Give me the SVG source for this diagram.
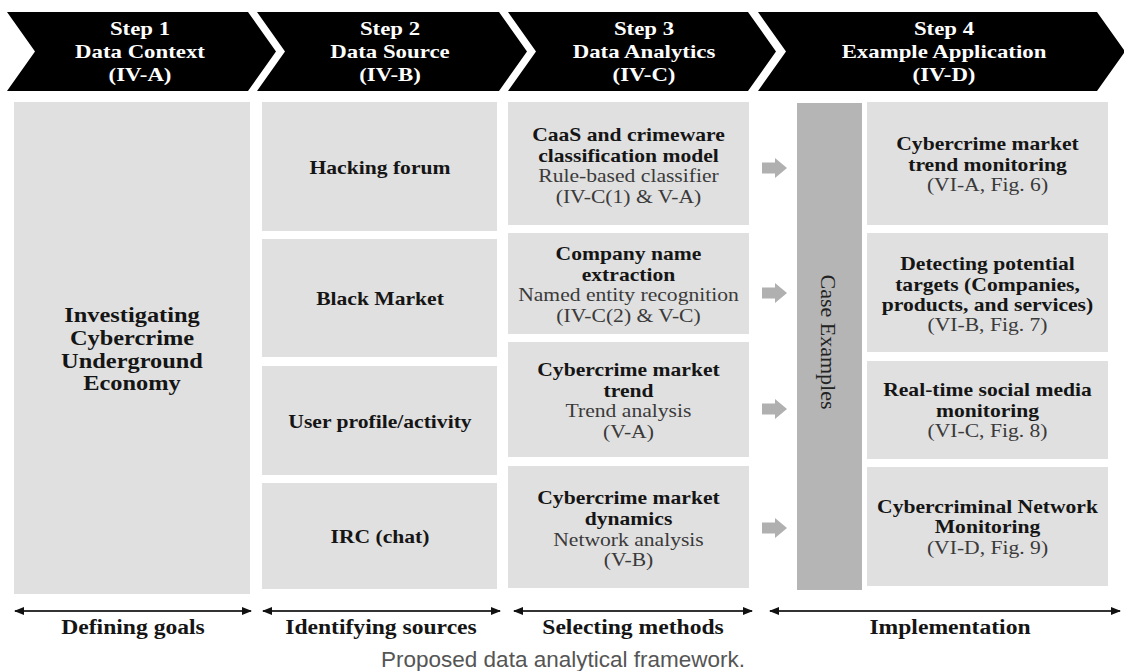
<svg xmlns="http://www.w3.org/2000/svg" xmlns:xlink="http://www.w3.org/1999/xlink" width="1124" height="671" viewBox="0 0 1124 671">
<style>
.chev{fill:#000}
.ct{font-family:"Liberation Serif","Times New Roman",serif;font-weight:bold;font-size:19.5px;fill:#fff;text-anchor:middle}
.box{fill:#e0e0e0}
.bar{fill:#b5b5b5}
.b{font-family:"Liberation Serif","Times New Roman",serif;font-weight:bold;font-size:18px;fill:#151515;text-anchor:middle}
.r{font-family:"Liberation Serif","Times New Roman",serif;font-size:18px;fill:#3a3a3a;text-anchor:middle}
.big{font-family:"Liberation Serif","Times New Roman",serif;font-weight:bold;font-size:20px;fill:#151515;text-anchor:middle}
.lab{font-family:"Liberation Serif","Times New Roman",serif;font-weight:bold;font-size:20px;fill:#151515;text-anchor:middle}
.cap{font-family:"Liberation Sans",Arial,sans-serif;font-size:22.5px;fill:#555;text-anchor:middle}
.ce{font-family:"Liberation Serif","Times New Roman",serif;font-size:22px;fill:#222;text-anchor:middle}
.garrow{fill:#b0b0b0}
.dl{stroke:#333;stroke-width:2;fill:none;marker-start:url(#ah);marker-end:url(#ah)}
</style>
<defs>
<marker id="ah" viewBox="0 0 10 8" refX="9" refY="4" markerWidth="10" markerHeight="8" markerUnits="userSpaceOnUse" orient="auto-start-reverse">
<path d="M0,0 L10,4 L0,8 Z" fill="#111"/>
</marker>
<path id="blk" d="M0,-5.5 H13 V-10 L25,0 L13,10 V5.5 H0 Z"/>
</defs>
<rect width="1124" height="671" fill="#fff"/>

<g id="step1">
<path class="chev" d="M7,12 H248 L276,51.5 L248,91 H7 L35,51.5 Z"/>
<g transform="translate(140 0) scale(1.17 1)">
<text class="ct" x="0" y="35">Step 1</text>
<text class="ct" x="0" y="58">Data Context</text>
<text class="ct" x="0" y="81">(IV-A)</text>
</g>
</g>
<g id="step2">
<path class="chev" d="M257,12 H499 L527,51.5 L499,91 H257 L285,51.5 Z"/>
<g transform="translate(390 0) scale(1.17 1)">
<text class="ct" x="0" y="35">Step 2</text>
<text class="ct" x="0" y="58">Data Source</text>
<text class="ct" x="0" y="81">(IV-B)</text>
</g>
</g>
<g id="step3">
<path class="chev" d="M508,12 H748 L776,51.5 L748,91 H508 L536,51.5 Z"/>
<g transform="translate(644 0) scale(1.17 1)">
<text class="ct" x="0" y="35">Step 3</text>
<text class="ct" x="0" y="58">Data Analytics</text>
<text class="ct" x="0" y="81">(IV-C)</text>
</g>
</g>
<g id="step4">
<path class="chev" d="M758,12 H1097 L1125,51.5 L1097,91 H758 L786,51.5 Z"/>
<g transform="translate(944 0) scale(1.17 1)">
<text class="ct" x="0" y="35">Step 4</text>
<text class="ct" x="0" y="58">Example Application</text>
<text class="ct" x="0" y="81">(IV-D)</text>
</g>
</g>

<g id="goal">
<rect class="box" x="14" y="102" width="236" height="492"/>
<g transform="translate(132 0) scale(1.22 1)">
<text class="big" x="0" y="322">Investigating</text>
<text class="big" x="0" y="345">Cybercrime</text>
<text class="big" x="0" y="368">Underground</text>
<text class="big" x="0" y="390">Economy</text>
</g>
</g>

<g id="src-hacking">
<rect class="box" x="262" y="102" width="235" height="129"/>
<g transform="translate(380 0) scale(1.2 1)"><text class="b" x="0" y="174">Hacking forum</text></g>
</g>
<g id="src-black">
<rect class="box" x="262" y="239" width="235" height="118"/>
<g transform="translate(380 0) scale(1.2 1)"><text class="b" x="0" y="305">Black Market</text></g>
</g>
<g id="src-user">
<rect class="box" x="262" y="366" width="235" height="109"/>
<g transform="translate(380 0) scale(1.2 1)"><text class="b" x="0" y="428">User profile/activity</text></g>
</g>
<g id="src-irc">
<rect class="box" x="262" y="483" width="235" height="106"/>
<g transform="translate(380 0) scale(1.2 1)"><text class="b" x="0" y="543">IRC (chat)</text></g>
</g>

<g id="m-caas">
<rect class="box" x="508" y="102" width="241" height="123"/>
<g transform="translate(628.5 0) scale(1.2 1)">
<text class="b" x="0" y="141">CaaS and crimeware</text>
<text class="b" x="0" y="162">classification model</text>
<text class="r" x="0" y="182">Rule-based classifier</text>
<text class="r" x="0" y="203">(IV-C(1) &amp; V-A)</text>
</g>
</g>
<g id="m-company">
<rect class="box" x="508" y="233" width="241" height="101"/>
<g transform="translate(628.5 0) scale(1.2 1)">
<text class="b" x="0" y="260">Company name</text>
<text class="b" x="0" y="281">extraction</text>
<text class="r" x="0" y="301">Named entity recognition</text>
<text class="r" x="0" y="322">(IV-C(2) &amp; V-C)</text>
</g>
</g>
<g id="m-trend">
<rect class="box" x="508" y="342" width="241" height="115"/>
<g transform="translate(628.5 0) scale(1.2 1)">
<text class="b" x="0" y="376">Cybercrime market</text>
<text class="b" x="0" y="397">trend</text>
<text class="r" x="0" y="417">Trend analysis</text>
<text class="r" x="0" y="438">(V-A)</text>
</g>
</g>
<g id="m-dyn">
<rect class="box" x="508" y="466" width="241" height="122"/>
<g transform="translate(628.5 0) scale(1.2 1)">
<text class="b" x="0" y="504">Cybercrime market</text>
<text class="b" x="0" y="525">dynamics</text>
<text class="r" x="0" y="546">Network analysis</text>
<text class="r" x="0" y="566">(V-B)</text>
</g>
</g>

<g id="case-examples">
<rect class="bar" x="797" y="103" width="65" height="487"/>
<text class="ce" transform="translate(828 342) rotate(90)" x="0" y="7">Case Examples</text>
</g>

<g id="a-trend">
<rect class="box" x="867" y="102" width="241" height="123"/>
<g transform="translate(987.5 0) scale(1.2 1)">
<text class="b" x="0" y="150">Cybercrime market</text>
<text class="b" x="0" y="171">trend monitoring</text>
<text class="r" x="0" y="191">(VI-A, Fig. 6)</text>
</g>
</g>
<g id="a-targets">
<rect class="box" x="867" y="233" width="241" height="119"/>
<g transform="translate(987.5 0) scale(1.2 1)">
<text class="b" x="0" y="270">Detecting potential</text>
<text class="b" x="0" y="291">targets (Companies,</text>
<text class="b" x="0" y="311">products, and services)</text>
<text class="r" x="0" y="331">(VI-B, Fig. 7)</text>
</g>
</g>
<g id="a-social">
<rect class="box" x="867" y="361" width="241" height="98"/>
<g transform="translate(987.5 0) scale(1.2 1)">
<text class="b" x="0" y="396">Real-time social media</text>
<text class="b" x="0" y="417">monitoring</text>
<text class="r" x="0" y="437">(VI-C, Fig. 8)</text>
</g>
</g>
<g id="a-network">
<rect class="box" x="867" y="467" width="241" height="119"/>
<g transform="translate(987.5 0) scale(1.2 1)">
<text class="b" x="0" y="513">Cybercriminal Network</text>
<text class="b" x="0" y="533">Monitoring</text>
<text class="r" x="0" y="554">(VI-D, Fig. 9)</text>
</g>
</g>

<g id="connectors">
<use xlink:href="#blk" href="#blk" class="garrow" transform="translate(762 168)"/>
<use xlink:href="#blk" href="#blk" class="garrow" transform="translate(762 293)"/>
<use xlink:href="#blk" href="#blk" class="garrow" transform="translate(762 409)"/>
<use xlink:href="#blk" href="#blk" class="garrow" transform="translate(762 528)"/>
<line class="dl" x1="15" y1="611" x2="251" y2="611"/>
<line class="dl" x1="263" y1="611" x2="500" y2="611"/>
<line class="dl" x1="514" y1="611" x2="752" y2="611"/>
<line class="dl" x1="770" y1="611" x2="1120" y2="611"/>
</g>

<g id="labels">
<g transform="translate(133 0) scale(1.18 1)"><text class="lab" x="0" y="634">Defining goals</text></g>
<g transform="translate(381 0) scale(1.18 1)"><text class="lab" x="0" y="634">Identifying sources</text></g>
<g transform="translate(633 0) scale(1.18 1)"><text class="lab" x="0" y="634">Selecting methods</text></g>
<g transform="translate(950 0) scale(1.18 1)"><text class="lab" x="0" y="634">Implementation</text></g>
<text class="cap" x="563" y="667">Proposed data analytical framework.</text>
</g>
</svg>
